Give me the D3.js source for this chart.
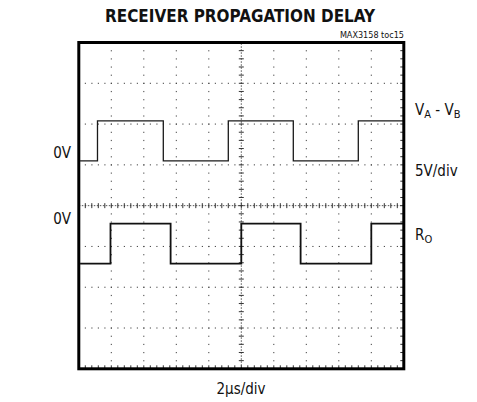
<!DOCTYPE html>
<html lang="en">
<head>
<meta charset="UTF-8">
<title>Receiver Propagation Delay</title>
<script src="https://cdn.jsdelivr.net/npm/d3@7"></script>
<style>
  body { margin: 0; background: #fff; }
  text { font-family: "Liberation Sans Narrow", "DejaVu Sans Condensed", "Liberation Sans", sans-serif; font-stretch: condensed; fill: #111; }
</style>
</head>
<body>
<script>
// time axis: 2us/div, 10 divisions; vertical: 8 divisions, values in divisions from center
const timeRange = [0, 20];
const divRange = [-4, 4];

// V_A - V_B trace (step points, level changes at each time)
const vabTime = [0.08, 1.15, 5.2, 9.2, 13.2, 17.2, 20];
const vabLevel = [1.1, 2.08, 1.1, 2.08, 1.1, 2.08, 2.08];

// R_O trace
const roTime = [0.08, 1.95, 5.65, 10.0, 13.65, 18.0, 20];
const roLevel = [-1.42, -0.44, -1.42, -0.44, -1.42, -0.44, -0.44];

const plotLeft = 78.8, plotTop = 42.5, plotW = 325, plotH = 326.3;

const svg = d3.select('body').append('svg')
  .attr('width', 477)
  .attr('height', 402)

const x = d3.scaleLinear().domain(timeRange).range([plotLeft, plotLeft + plotW])
const y = d3.scaleLinear().domain(divRange).range([plotTop + plotH, plotTop])

const xMajor = d3.range(0, 21, 2)
const yMajor = d3.range(-4, 5, 1)
const xMinor = d3.range(0, 20.01, 0.4)
const yMinor = d3.range(-4, 4.01, 0.2)

const grid = svg.append('g')

// dotted grid: a dot at every minor step along each major line
xMajor.slice(1, -1).forEach(function (t) {
  if (t === 10) return
  grid.selectAll(null)
    .data(yMinor.slice(1, -1))
    .enter()
    .append('rect')
    .attr('x', x(t) - 0.5)
    .attr('y', (d) => y(d) - 0.5)
    .attr('width', 1)
    .attr('height', 1.2)
    .attr('fill', '#444')
})
yMajor.slice(1, -1).forEach(function (v) {
  if (v === 0) return
  grid.selectAll(null)
    .data(xMinor.slice(1, -1))
    .enter()
    .append('rect')
    .attr('x', (d) => x(d) - 0.5)
    .attr('y', y(v) - 0.5)
    .attr('width', 1.2)
    .attr('height', 1)
    .attr('fill', '#444')
})

// center cross with minor ticks
grid.append('line')
  .attr('x1', x(0)).attr('x2', x(20))
  .attr('y1', y(0)).attr('y2', y(0))
  .attr('stroke', '#555').attr('stroke-width', 1)
  .attr('stroke-dasharray', '1.5,1.5')
grid.append('line')
  .attr('x1', x(10)).attr('x2', x(10))
  .attr('y1', y(-4)).attr('y2', y(4))
  .attr('stroke', '#555').attr('stroke-width', 1)
  .attr('stroke-dasharray', '1.5,1.5')

grid.selectAll('.hx')
  .data(xMinor)
  .enter()
  .append('line')
  .attr('class', 'hx')
  .attr('x1', (d) => x(d)).attr('x2', (d) => x(d))
  .attr('y1', y(0) - 2.5).attr('y2', y(0) + 2.5)
  .attr('stroke', '#333')
grid.selectAll('.vy')
  .data(yMinor)
  .enter()
  .append('line')
  .attr('class', 'vy')
  .attr('x1', x(10) - 2.5).attr('x2', x(10) + 2.5)
  .attr('y1', (d) => y(d)).attr('y2', (d) => y(d))
  .attr('stroke', '#333')

// minor ticks along the bottom and right frame edges, pointing inward
grid.selectAll('.bt')
  .data(xMinor)
  .enter()
  .append('line')
  .attr('class', 'bt')
  .attr('x1', (d) => x(d)).attr('x2', (d) => x(d))
  .attr('y1', y(-4)).attr('y2', y(-4) - 3.5)
  .attr('stroke', '#333')
grid.selectAll('.rt')
  .data(yMinor)
  .enter()
  .append('line')
  .attr('class', 'rt')
  .attr('x1', x(20)).attr('x2', x(20) - 3.5)
  .attr('y1', (d) => y(d)).attr('y2', (d) => y(d))
  .attr('stroke', '#333')

// traces
const line = d3.line()
  .x((d) => x(d[0]))
  .y((d) => y(d[1]))
  .curve(d3.curveStepAfter)

svg.append('path')
  .datum(d3.zip(vabTime, vabLevel))
  .attr('d', line)
  .attr('fill', 'none')
  .attr('stroke', '#1a1a1a')
  .attr('stroke-width', 1.3)

svg.append('path')
  .datum(d3.zip(roTime, roLevel))
  .attr('d', line)
  .attr('fill', 'none')
  .attr('stroke', '#111')
  .attr('stroke-width', 1.8)

// frame
svg.append('rect')
  .attr('x', plotLeft)
  .attr('y', plotTop)
  .attr('width', plotW)
  .attr('height', plotH)
  .attr('fill', 'none')
  .attr('stroke', '#000')
  .attr('stroke-width', 3)

// texts
svg.append('text')
  .attr('x', 240)
  .attr('y', 22)
  .attr('text-anchor', 'middle')
  .attr('font-size', 17)
  .attr('font-weight', 'bold')
  .attr('textLength', 270)
  .attr('lengthAdjust', 'spacingAndGlyphs')
  .text('RECEIVER PROPAGATION DELAY')

svg.append('text')
  .attr('x', 404)
  .attr('y', 38)
  .attr('text-anchor', 'end')
  .attr('font-size', 9)
  .text('MAX3158 toc15')

svg.append('text')
  .attr('x', 241)
  .attr('y', 394)
  .attr('text-anchor', 'middle')
  .attr('font-size', 15)
  .text('2µs/div')

svg.append('text')
  .attr('x', 71)
  .attr('y', 158)
  .attr('text-anchor', 'end')
  .attr('font-size', 15)
  .text('0V')

svg.append('text')
  .attr('x', 71)
  .attr('y', 224)
  .attr('text-anchor', 'end')
  .attr('font-size', 15)
  .text('0V')

const vab = svg.append('text')
  .attr('x', 415)
  .attr('y', 115)
  .attr('font-size', 15)
vab.append('tspan').text('V')
vab.append('tspan').attr('font-size', 11).attr('dy', 3).text('A')
vab.append('tspan').attr('dy', -3).text(' - V')
vab.append('tspan').attr('font-size', 11).attr('dy', 3).text('B')

svg.append('text')
  .attr('x', 415)
  .attr('y', 176)
  .attr('font-size', 15)
  .text('5V/div')

const ro = svg.append('text')
  .attr('x', 415)
  .attr('y', 240)
  .attr('font-size', 15)
ro.append('tspan').text('R')
ro.append('tspan').attr('font-size', 11).attr('dy', 3).text('O')
</script>
</body>
</html>
